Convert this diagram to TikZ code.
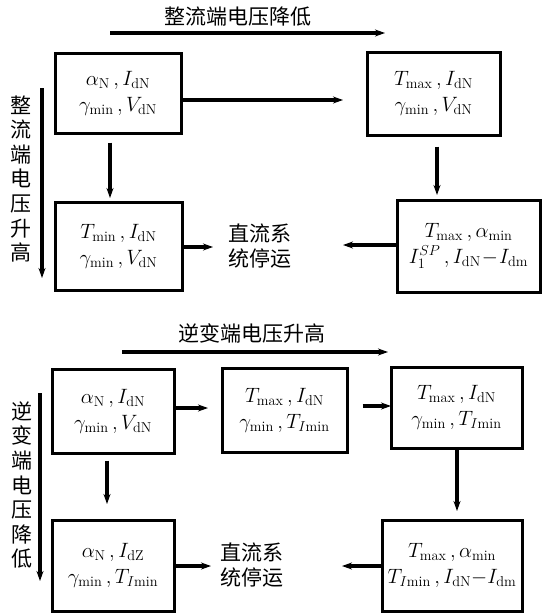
\documentclass[tikz,border=0pt]{standalone}
\usepackage{fontspec}
\newfontfamily\cjk{Noto Sans CJK SC}
\usetikzlibrary{arrows.meta}
\begin{document}
\begin{tikzpicture}[x=1pt,y=-1pt,
  box/.style={draw, line width=3pt, inner sep=0pt, align=center, font=\fontsize{20.5}{26}\selectfont},
  arr/.style={line width=3.2pt, -{Stealth[length=10pt,width=7pt]}},
  lbl/.style={font=\cjk\fontsize{21}{24.6}\selectfont, align=center, inner sep=0pt}]
\useasboundingbox (0,0) rectangle (542,613);
% ---------- top section ----------
\node[lbl] (T1) at (238,17) {整流端电压降低};
\coordinate (t1s) at (110,33);
\coordinate (t1e) at (385,33);
\draw[arr] (t1s) -- (t1e);
\node[lbl] (V1) at (21,179) {整\\流\\端\\电\\压\\升\\高};
\coordinate (v1s) at (42,88);
\coordinate (v1e) at (42,278);
\draw[arr] (v1s) -- (v1e);

\node[box, minimum width=126pt, minimum height=80pt] (A1) at (118,93)
  {$\alpha_{\mathrm N}\,,I_{\mathrm{dN}}$\\$\gamma_{\min}\,,V_{\mathrm{dN}}$};
\node[box, minimum width=133pt, minimum height=83pt] (A2) at (433.5,93.5)
  {$T_{\max}\,,I_{\mathrm{dN}}$\\$\gamma_{\min}\,,V_{\mathrm{dN}}$};
\node[box, minimum width=127pt, minimum height=88pt] (A3) at (118.5,246)
  {$T_{\min}\,,I_{\mathrm{dN}}$\\$\gamma_{\min}\,,V_{\mathrm{dN}}$};
\node[box, minimum width=143pt, minimum height=92pt] (A4) at (468.5,246)
  {$T_{\max}\,,\alpha_{\min}$\\$I_1^{SP}\,,I_{\mathrm{dN}}\!-\!I_{\mathrm{dm}}$};
\node[lbl] (S1) at (260,246) {直流系\\统停运};

\coordinate (a12) at (343,100);
\draw[arr] (A1.east |- a12) -- (a12);
\coordinate (a13) at (110,198);
\draw[arr] (A1.south -| a13) ++(0,8) -- (a13);
\coordinate (a24) at (437,195);
\draw[arr] (A2.south -| a24) ++(0,10) -- (a24);
\coordinate (a3s) at (213,247);
\draw[arr] (A3.east |- a3s) -- (a3s);
\coordinate (a4s) at (343,245);
\draw[arr] (A4.west |- a4s) -- (a4s);

% ---------- bottom section ----------
\node[lbl] (T2) at (252,333) {逆变端电压升高};
\coordinate (t2s) at (122,352);
\coordinate (t2e) at (388,352);
\draw[arr] (t2s) -- (t2e);
\node[lbl] (V2) at (22,485) {逆\\变\\端\\电\\压\\降\\低};
\coordinate (v2s) at (40,393);
\coordinate (v2e) at (40,581);
\draw[arr] (v2s) -- (v2e);

\node[box, minimum width=122pt, minimum height=84pt] (B1) at (113,411)
  {$\alpha_{\mathrm N}\,,I_{\mathrm{dN}}$\\$\gamma_{\min}\,,V_{\mathrm{dN}}$};
\node[box, minimum width=125pt, minimum height=84pt] (B2) at (284.5,410)
  {$T_{\max}\,,I_{\mathrm{dN}}$\\$\gamma_{\min}\,,T_{I\mathrm{min}}$};
\node[box, minimum width=131pt, minimum height=81pt] (B3) at (456.5,407.5)
  {$T_{\max}\,,I_{\mathrm{dN}}$\\$\gamma_{\min}\,,T_{I\mathrm{min}}$};
\node[box, minimum width=122pt, minimum height=91pt] (B4) at (113,565.5)
  {$\alpha_{\mathrm N}\,,I_{\mathrm{dZ}}$\\$\gamma_{\min}\,,T_{I\mathrm{min}}$};
\node[box, minimum width=140pt, minimum height=91pt] (B5) at (452,565.5)
  {$T_{\max}\,,\alpha_{\min}$\\$T_{I\mathrm{min}}\,,I_{\mathrm{dN}}{-}I_{\mathrm{dm}}$};
\node[lbl] (S2) at (252,565) {直流系\\统停运};

\coordinate (b12) at (208,408);
\draw[arr] (B1.east |- b12) -- (b12);
\coordinate (b23) at (391,406);
\draw[arr] (B2.east |- b23) ++(14,0) -- (b23);
\coordinate (b14) at (107,504);
\draw[arr] (B1.south -| b14) ++(0,6) -- (b14);
\coordinate (b35) at (457,511);
\draw[arr] (B3.south -| b35) -- (b35);
\coordinate (b4s) at (211,566);
\draw[arr] (B4.east |- b4s) -- (b4s);
\coordinate (b5s) at (342,566);
\draw[arr] (B5.west |- b5s) -- (b5s);
\end{tikzpicture}
\end{document}
